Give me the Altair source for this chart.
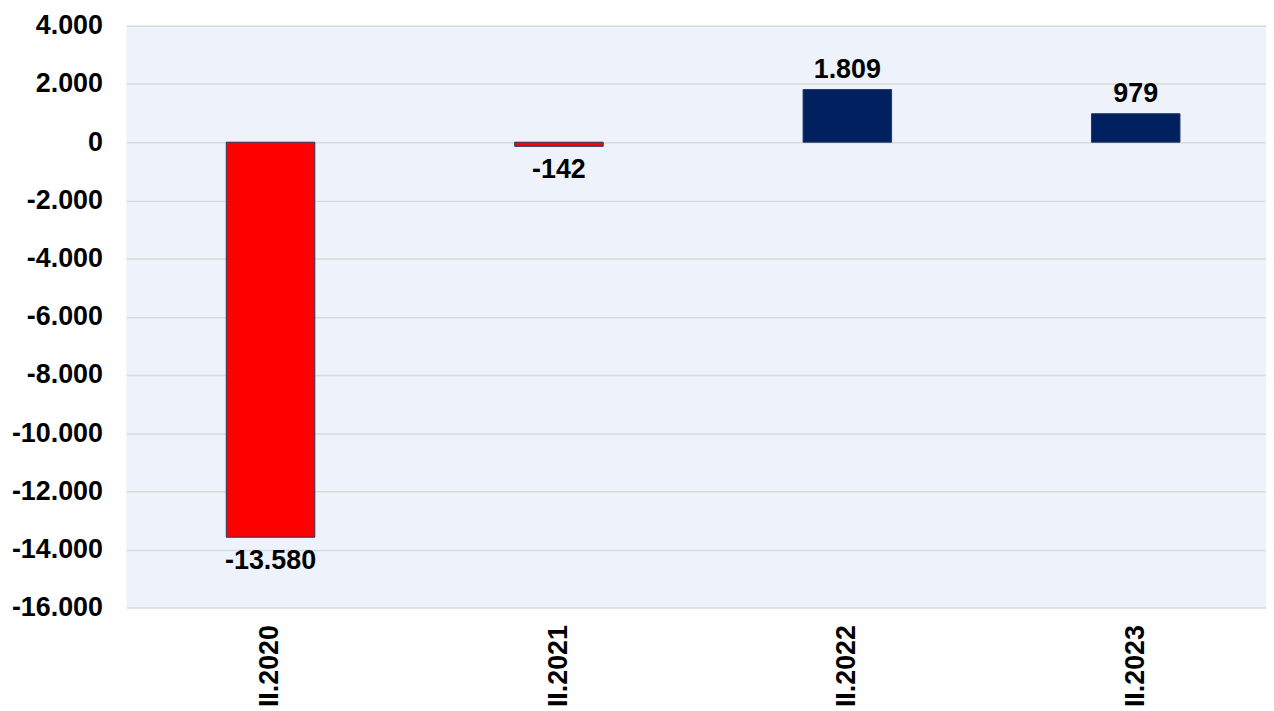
import altair as alt
import pandas as pd

categories = ["II.2020", "II.2021", "II.2022", "II.2023"]
values = [-13580, -142, 1809, 979]
labels = [f"{v:,}".replace(",", ".") for v in values]

df = pd.DataFrame({"cat": categories, "value": values, "label": labels})

FONT = "Liberation Sans"
FS = 27

x = alt.X("cat:N", sort=categories, title=None,
          scale=alt.Scale(paddingInner=0, paddingOuter=0, range=[0, 1160]),
          axis=alt.Axis(labelAngle=-90, labelFontSize=FS, labelFont=FONT,
                        labelFontWeight="bold", labelColor="#000000",
                        labelPadding=17, ticks=False, domain=False, grid=False))
y = alt.Y("value:Q", title=None,
          scale=alt.Scale(domain=[-16000, 4000], nice=False, zero=True),
          axis=alt.Axis(values=list(range(-16000, 4001, 2000)),
                        labelExpr="replace(replace(format(datum.value, ','), ',', '.'), '\u2212', '-')",
                        labelFontSize=FS, labelFont=FONT, labelFontWeight="bold",
                        labelColor="#000000", labelPadding=24, ticks=False,
                        domain=False, grid=True, gridColor="#D9D9D9", gridWidth=1.5))

base = alt.Chart(df)

bars = base.mark_bar(size=89, strokeWidth=1).encode(
    x=x, y=y,
    color=alt.condition("datum.value < 0", alt.value("#FF0000"), alt.value("#002060")),
    stroke=alt.value("#1F3864"),
)

pos_text = base.transform_filter("datum.value >= 0").mark_text(
    baseline="bottom", dy=-6, fontSize=FS, font=FONT, fontWeight="bold", color="#000000"
).encode(x=alt.X("cat:N", sort=categories), y="value:Q", text="label:N")

neg_text = base.transform_filter("datum.value < 0").mark_text(
    baseline="top", dy=11, fontSize=FS, font=FONT, fontWeight="bold", color="#000000"
).encode(x=alt.X("cat:N", sort=categories), y="value:Q", text="label:N")

chart = alt.layer(bars, pos_text, neg_text).properties(
    width=1146, height=585,
    autosize=alt.AutoSizeParams(type="none"),
    padding={"left": 119, "top": 16, "right": 0, "bottom": 100},
    background="#FFFFFF",
).configure_view(fill="#EEF2FA", stroke=None)

chart.save("out.html", embed_options={"renderer": "svg", "actions": False})
